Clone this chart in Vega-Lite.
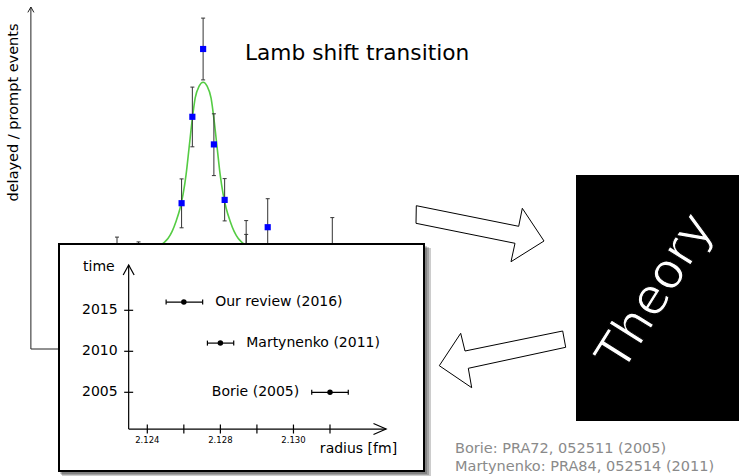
{
  "$schema": "https://vega.github.io/schema/vega-lite/v6.json",
  "width": 739,
  "height": 476,
  "padding": 0,
  "autosize": {"type": "none"},
  "background": "white",
  "config": {
    "view": {"stroke": null},
    "axis": {"disable": true},
    "legend": {"disable": true},
    "text": {"font": "DejaVu Sans"}
  },
  "datasets": {
    "spectrum": [
      {"detuning": 0, "ratio": 3.2, "lo": 2.67, "hi": 3.73},
      {"detuning": 2, "ratio": 3.3, "lo": 3.03, "hi": 3.57},
      {"detuning": 6, "ratio": 4.86, "lo": 4.04, "hi": 5.67},
      {"detuning": 7, "ratio": 7.74, "lo": 6.74, "hi": 8.73},
      {"detuning": 8, "ratio": 10.0, "lo": 8.97, "hi": 11.03},
      {"detuning": 9, "ratio": 6.82, "lo": 5.78, "hi": 7.84},
      {"detuning": 10, "ratio": 4.97, "lo": 4.27, "hi": 5.68},
      {"detuning": 12, "ratio": 3.43, "lo": 2.6, "hi": 4.28},
      {"detuning": 12, "ratio": 3.1, "lo": 2.4, "hi": 3.82},
      {"detuning": 14, "ratio": 4.06, "lo": 3.11, "hi": 5.01},
      {"detuning": 20, "ratio": 3.3, "lo": 2.2, "hi": 4.38}
    ],
    "fit": [
      {"detuning": 3.82, "ratio": 3.35},
      {"detuning": 4.28, "ratio": 3.52},
      {"detuning": 4.75, "ratio": 3.69},
      {"detuning": 5.12, "ratio": 3.92},
      {"detuning": 5.49, "ratio": 4.26},
      {"detuning": 5.86, "ratio": 4.69},
      {"detuning": 6.14, "ratio": 5.16},
      {"detuning": 6.42, "ratio": 5.82},
      {"detuning": 6.70, "ratio": 6.72},
      {"detuning": 6.98, "ratio": 7.62},
      {"detuning": 7.26, "ratio": 8.36},
      {"detuning": 7.63, "ratio": 8.76},
      {"detuning": 8.00, "ratio": 8.89},
      {"detuning": 8.37, "ratio": 8.76},
      {"detuning": 8.74, "ratio": 8.36},
      {"detuning": 9.02, "ratio": 7.62},
      {"detuning": 9.30, "ratio": 6.72},
      {"detuning": 9.58, "ratio": 5.82},
      {"detuning": 9.86, "ratio": 5.16},
      {"detuning": 10.14, "ratio": 4.69},
      {"detuning": 10.51, "ratio": 4.26},
      {"detuning": 10.88, "ratio": 3.92},
      {"detuning": 11.25, "ratio": 3.69},
      {"detuning": 11.72, "ratio": 3.52},
      {"detuning": 12.18, "ratio": 3.35}
    ],
    "spec_frame": [
      {"x": -8, "y": 0, "x2": -8, "y2": 11.4},
      {"x": -8, "y": 0, "x2": 25, "y2": 0}
    ],
    "spec_head": [
      {"o": 0, "x": -8.28, "y": 11.22},
      {"o": 1, "x": -8, "y": 11.4},
      {"o": 2, "x": -7.72, "y": 11.22}
    ],
    "inset_frame": [
      {"r": 2.12298, "yr": 2000.52, "r2": 2.12298, "yr2": 2020.52},
      {"r": 2.12298, "yr": 2000.52, "r2": 2.13707, "yr2": 2000.52}
    ],
    "inset_heads": [
      {"id": "y", "o": 0, "r": 2.12268, "yr": 2019.3},
      {"id": "y", "o": 1, "r": 2.12298, "yr": 2020.52},
      {"id": "y", "o": 2, "r": 2.12328, "yr": 2019.3},
      {"id": "x", "o": 0, "r": 2.13638, "yr": 2001.19},
      {"id": "x", "o": 1, "r": 2.13707, "yr": 2000.52},
      {"id": "x", "o": 2, "r": 2.13638, "yr": 1999.85}
    ],
    "years": [{"year": 2005}, {"year": 2010}, {"year": 2015}],
    "radii": [
      {"radius": 2.124, "label": "2.124"},
      {"radius": 2.126, "label": ""},
      {"radius": 2.128, "label": "2.128"},
      {"radius": 2.130, "label": ""},
      {"radius": 2.132, "label": "2.130"},
      {"radius": 2.134, "label": ""}
    ],
    "results": [
      {"name": "Our review (2016)", "year": 2016, "radius": 2.126, "lo": 2.12503, "hi": 2.12703},
      {"name": "Martynenko (2011)", "year": 2011, "radius": 2.128, "lo": 2.12729, "hi": 2.12873},
      {"name": "Borie (2005)", "year": 2005, "radius": 2.134, "lo": 2.133, "hi": 2.135}
    ],
    "shadow": [
      {"cx": 62, "cy": 248, "cx2": 431, "cy2": 476},
      {"cx": 61, "cy": 247, "cx2": 429, "cy2": 475},
      {"cx": 60, "cy": 246, "cx2": 427, "cy2": 474}
    ],
    "inset_box": [{"cx": 59, "cy": 244, "cx2": 424, "cy2": 471}],
    "arrows": [
      {"id": "a", "o": 0, "cx": 416.3, "cy": 205.7},
      {"id": "a", "o": 1, "cx": 518.7, "cy": 226.3},
      {"id": "a", "o": 2, "cx": 522.3, "cy": 208.3},
      {"id": "a", "o": 3, "cx": 544, "cy": 241},
      {"id": "a", "o": 4, "cx": 511, "cy": 261.7},
      {"id": "a", "o": 5, "cx": 515, "cy": 243.3},
      {"id": "a", "o": 6, "cx": 416, "cy": 223.3},
      {"id": "a", "o": 7, "cx": 416.3, "cy": 205.7},
      {"id": "b", "o": 0, "cx": 562.7, "cy": 331},
      {"id": "b", "o": 1, "cx": 465, "cy": 351},
      {"id": "b", "o": 2, "cx": 460.7, "cy": 333.3},
      {"id": "b", "o": 3, "cx": 439.3, "cy": 365.7},
      {"id": "b", "o": 4, "cx": 471.7, "cy": 387.7},
      {"id": "b", "o": 5, "cx": 468.3, "cy": 368.3},
      {"id": "b", "o": 6, "cx": 565.7, "cy": 347.3},
      {"id": "b", "o": 7, "cx": 562.7, "cy": 331}
    ],
    "theory_box": [{"cx": 576, "cy": 175, "cx2": 739, "cy2": 421}],
    "notes": [
      {"cx": 455, "cy": 448.5, "text": "Borie: PRA72, 052511 (2005)"},
      {"cx": 455, "cy": 466.5, "text": "Martynenko: PRA84, 052514 (2011)"}
    ]
  },
  "resolve": {"scale": {"x": "independent", "y": "independent"}},
  "layer": [
    {
      "layer": [
        {
          "data": {"name": "spec_frame"},
          "mark": {"type": "rule", "color": "#222", "strokeWidth": 1},
          "encoding": {
            "x": {"field": "x", "type": "quantitative", "scale": {"domain": [0, 20], "range": [117, 332.3], "zero": false, "nice": false}, "axis": null},
            "y": {"field": "y", "type": "quantitative", "scale": {"domain": [0, 11.4], "range": [349, 7], "zero": false, "nice": false}, "axis": null},
            "x2": {"field": "x2"},
            "y2": {"field": "y2"}
          }
        },
        {
          "data": {"name": "spec_head"},
          "mark": {"type": "line", "color": "#222", "strokeWidth": 1},
          "encoding": {
            "x": {"field": "x", "type": "quantitative", "scale": {"domain": [0, 20], "range": [117, 332.3], "zero": false, "nice": false}, "axis": null},
            "y": {"field": "y", "type": "quantitative", "scale": {"domain": [0, 11.4], "range": [349, 7], "zero": false, "nice": false}, "axis": null},
            "order": {"field": "o"}
          }
        },
        {
          "data": {"name": "fit"},
          "mark": {"type": "line", "color": "#55cc44", "strokeWidth": 1.6, "interpolate": "monotone"},
          "encoding": {
            "x": {"field": "detuning", "type": "quantitative", "scale": {"domain": [0, 20], "range": [117, 332.3], "zero": false, "nice": false}, "axis": null},
            "y": {"field": "ratio", "type": "quantitative", "scale": {"domain": [0, 11.4], "range": [349, 7], "zero": false, "nice": false}, "axis": null}
          }
        },
        {
          "data": {"name": "spectrum"},
          "mark": {"type": "rule", "color": "#333", "strokeWidth": 1},
          "encoding": {
            "x": {"field": "detuning", "type": "quantitative", "scale": {"domain": [0, 20], "range": [117, 332.3], "zero": false, "nice": false}, "axis": null},
            "y": {"field": "lo", "type": "quantitative", "scale": {"domain": [0, 11.4], "range": [349, 7], "zero": false, "nice": false}, "axis": null},
            "y2": {"field": "hi"}
          }
        },
        {
          "data": {"name": "spectrum"},
          "mark": {"type": "tick", "orient": "horizontal", "size": 4, "thickness": 1, "color": "#333", "opacity": 1},
          "encoding": {
            "x": {"field": "detuning", "type": "quantitative", "scale": {"domain": [0, 20], "range": [117, 332.3], "zero": false, "nice": false}, "axis": null},
            "y": {"field": "lo", "type": "quantitative", "scale": {"domain": [0, 11.4], "range": [349, 7], "zero": false, "nice": false}, "axis": null}
          }
        },
        {
          "data": {"name": "spectrum"},
          "mark": {"type": "tick", "orient": "horizontal", "size": 4, "thickness": 1, "color": "#333", "opacity": 1},
          "encoding": {
            "x": {"field": "detuning", "type": "quantitative", "scale": {"domain": [0, 20], "range": [117, 332.3], "zero": false, "nice": false}, "axis": null},
            "y": {"field": "hi", "type": "quantitative", "scale": {"domain": [0, 11.4], "range": [349, 7], "zero": false, "nice": false}, "axis": null}
          }
        },
        {
          "data": {"name": "spectrum"},
          "mark": {"type": "point", "shape": "square", "filled": true, "size": 38, "color": "#0000ff", "opacity": 1},
          "encoding": {
            "x": {"field": "detuning", "type": "quantitative", "scale": {"domain": [0, 20], "range": [117, 332.3], "zero": false, "nice": false}, "axis": null},
            "y": {"field": "ratio", "type": "quantitative", "scale": {"domain": [0, 11.4], "range": [349, 7], "zero": false, "nice": false}, "axis": null}
          }
        }
      ]
    },
    {
      "layer": [
        {
          "data": {"name": "shadow"},
          "mark": {"type": "rect", "color": "#000", "opacity": 0.2},
          "encoding": {
            "x": {"field": "cx", "type": "quantitative", "scale": {"domain": [0, 739], "range": [0, 739], "zero": false, "nice": false}, "axis": null},
            "y": {"field": "cy", "type": "quantitative", "scale": {"domain": [0, 476], "range": [0, 476], "zero": false, "nice": false}, "axis": null},
            "x2": {"field": "cx2"},
            "y2": {"field": "cy2"}
          }
        },
        {
          "data": {"name": "inset_box"},
          "mark": {"type": "rect", "fill": "white", "stroke": "black", "strokeWidth": 2, "opacity": 1},
          "encoding": {
            "x": {"field": "cx", "type": "quantitative", "scale": {"domain": [0, 739], "range": [0, 739], "zero": false, "nice": false}, "axis": null},
            "y": {"field": "cy", "type": "quantitative", "scale": {"domain": [0, 476], "range": [0, 476], "zero": false, "nice": false}, "axis": null},
            "x2": {"field": "cx2"},
            "y2": {"field": "cy2"}
          }
        }
      ]
    },
    {
      "layer": [
        {
          "data": {"name": "inset_frame"},
          "mark": {"type": "rule", "color": "black", "strokeWidth": 1.2},
          "encoding": {
            "x": {"field": "r", "type": "quantitative", "scale": {"domain": [2.124, 2.134], "range": [147.3, 330], "zero": false, "nice": false}, "axis": null},
            "y": {"field": "yr", "type": "quantitative", "scale": {"domain": [2005, 2015], "range": [392.3, 310.3], "zero": false, "nice": false}, "axis": null},
            "x2": {"field": "r2"},
            "y2": {"field": "yr2"}
          }
        },
        {
          "data": {"name": "inset_heads"},
          "mark": {"type": "line", "color": "black", "strokeWidth": 1.2},
          "encoding": {
            "x": {"field": "r", "type": "quantitative", "scale": {"domain": [2.124, 2.134], "range": [147.3, 330], "zero": false, "nice": false}, "axis": null},
            "y": {"field": "yr", "type": "quantitative", "scale": {"domain": [2005, 2015], "range": [392.3, 310.3], "zero": false, "nice": false}, "axis": null},
            "detail": {"field": "id"},
            "order": {"field": "o"}
          }
        },
        {
          "data": {"name": "years"},
          "mark": {"type": "tick", "orient": "horizontal", "size": 9, "thickness": 1.2, "color": "black", "opacity": 1},
          "encoding": {
            "x": {"datum": 2.12298, "type": "quantitative", "scale": {"domain": [2.124, 2.134], "range": [147.3, 330], "zero": false, "nice": false}, "axis": null},
            "y": {"field": "year", "type": "quantitative", "scale": {"domain": [2005, 2015], "range": [392.3, 310.3], "zero": false, "nice": false}, "axis": null}
          }
        },
        {
          "data": {"name": "years"},
          "mark": {"type": "text", "align": "right", "baseline": "middle", "dx": -11, "fontSize": 14, "color": "black"},
          "encoding": {
            "x": {"datum": 2.12298, "type": "quantitative", "scale": {"domain": [2.124, 2.134], "range": [147.3, 330], "zero": false, "nice": false}, "axis": null},
            "y": {"field": "year", "type": "quantitative", "scale": {"domain": [2005, 2015], "range": [392.3, 310.3], "zero": false, "nice": false}, "axis": null},
            "text": {"field": "year", "type": "nominal"}
          }
        },
        {
          "data": {"name": "radii"},
          "mark": {"type": "tick", "orient": "vertical", "size": 9, "thickness": 1.2, "color": "black", "opacity": 1},
          "encoding": {
            "x": {"field": "radius", "type": "quantitative", "scale": {"domain": [2.124, 2.134], "range": [147.3, 330], "zero": false, "nice": false}, "axis": null},
            "y": {"datum": 2000.52, "type": "quantitative", "scale": {"domain": [2005, 2015], "range": [392.3, 310.3], "zero": false, "nice": false}, "axis": null}
          }
        },
        {
          "data": {"name": "radii"},
          "mark": {"type": "text", "align": "center", "baseline": "middle", "dy": 11, "fontSize": 8.5, "color": "black"},
          "encoding": {
            "x": {"field": "radius", "type": "quantitative", "scale": {"domain": [2.124, 2.134], "range": [147.3, 330], "zero": false, "nice": false}, "axis": null},
            "y": {"datum": 2000.52, "type": "quantitative", "scale": {"domain": [2005, 2015], "range": [392.3, 310.3], "zero": false, "nice": false}, "axis": null},
            "text": {"field": "label", "type": "nominal"}
          }
        },
        {
          "data": {"values": [{"label": "time"}]},
          "mark": {"type": "text", "align": "right", "baseline": "middle", "dx": -14, "dy": 2, "fontSize": 14, "color": "black"},
          "encoding": {
            "x": {"datum": 2.12298, "type": "quantitative", "scale": {"domain": [2.124, 2.134], "range": [147.3, 330], "zero": false, "nice": false}, "axis": null},
            "y": {"datum": 2020.52, "type": "quantitative", "scale": {"domain": [2005, 2015], "range": [392.3, 310.3], "zero": false, "nice": false}, "axis": null},
            "text": {"field": "label", "type": "nominal"}
          }
        },
        {
          "data": {"values": [{"label": "radius [fm]"}]},
          "mark": {"type": "text", "align": "right", "baseline": "middle", "dx": 11, "dy": 20, "fontSize": 14, "color": "black"},
          "encoding": {
            "x": {"datum": 2.13707, "type": "quantitative", "scale": {"domain": [2.124, 2.134], "range": [147.3, 330], "zero": false, "nice": false}, "axis": null},
            "y": {"datum": 2000.52, "type": "quantitative", "scale": {"domain": [2005, 2015], "range": [392.3, 310.3], "zero": false, "nice": false}, "axis": null},
            "text": {"field": "label", "type": "nominal"}
          }
        },
        {
          "data": {"name": "results"},
          "mark": {"type": "rule", "color": "black", "strokeWidth": 1.2},
          "encoding": {
            "x": {"field": "lo", "type": "quantitative", "scale": {"domain": [2.124, 2.134], "range": [147.3, 330], "zero": false, "nice": false}, "axis": null},
            "x2": {"field": "hi"},
            "y": {"field": "year", "type": "quantitative", "scale": {"domain": [2005, 2015], "range": [392.3, 310.3], "zero": false, "nice": false}, "axis": null}
          }
        },
        {
          "data": {"name": "results"},
          "mark": {"type": "tick", "orient": "vertical", "size": 5, "thickness": 1.2, "color": "black", "opacity": 1},
          "encoding": {
            "x": {"field": "lo", "type": "quantitative", "scale": {"domain": [2.124, 2.134], "range": [147.3, 330], "zero": false, "nice": false}, "axis": null},
            "y": {"field": "year", "type": "quantitative", "scale": {"domain": [2005, 2015], "range": [392.3, 310.3], "zero": false, "nice": false}, "axis": null}
          }
        },
        {
          "data": {"name": "results"},
          "mark": {"type": "tick", "orient": "vertical", "size": 5, "thickness": 1.2, "color": "black", "opacity": 1},
          "encoding": {
            "x": {"field": "hi", "type": "quantitative", "scale": {"domain": [2.124, 2.134], "range": [147.3, 330], "zero": false, "nice": false}, "axis": null},
            "y": {"field": "year", "type": "quantitative", "scale": {"domain": [2005, 2015], "range": [392.3, 310.3], "zero": false, "nice": false}, "axis": null}
          }
        },
        {
          "data": {"name": "results"},
          "mark": {"type": "point", "shape": "circle", "filled": true, "size": 30, "color": "black", "opacity": 1},
          "encoding": {
            "x": {"field": "radius", "type": "quantitative", "scale": {"domain": [2.124, 2.134], "range": [147.3, 330], "zero": false, "nice": false}, "axis": null},
            "y": {"field": "year", "type": "quantitative", "scale": {"domain": [2005, 2015], "range": [392.3, 310.3], "zero": false, "nice": false}, "axis": null}
          }
        },
        {
          "data": {"name": "results"},
          "transform": [{"filter": "datum.year > 2008"}],
          "mark": {"type": "text", "align": "left", "baseline": "middle", "dx": 12.5, "fontSize": 14, "color": "black"},
          "encoding": {
            "x": {"field": "hi", "type": "quantitative", "scale": {"domain": [2.124, 2.134], "range": [147.3, 330], "zero": false, "nice": false}, "axis": null},
            "y": {"field": "year", "type": "quantitative", "scale": {"domain": [2005, 2015], "range": [392.3, 310.3], "zero": false, "nice": false}, "axis": null},
            "text": {"field": "name", "type": "nominal"}
          }
        },
        {
          "data": {"name": "results"},
          "transform": [{"filter": "datum.year < 2008"}],
          "mark": {"type": "text", "align": "right", "baseline": "middle", "dx": -12.5, "fontSize": 14, "color": "black"},
          "encoding": {
            "x": {"field": "lo", "type": "quantitative", "scale": {"domain": [2.124, 2.134], "range": [147.3, 330], "zero": false, "nice": false}, "axis": null},
            "y": {"field": "year", "type": "quantitative", "scale": {"domain": [2005, 2015], "range": [392.3, 310.3], "zero": false, "nice": false}, "axis": null},
            "text": {"field": "name", "type": "nominal"}
          }
        }
      ]
    },
    {
      "layer": [
        {
          "data": {"name": "arrows"},
          "mark": {"type": "line", "color": "black", "strokeWidth": 1},
          "encoding": {
            "x": {"field": "cx", "type": "quantitative", "scale": {"domain": [0, 739], "range": [0, 739], "zero": false, "nice": false}, "axis": null},
            "y": {"field": "cy", "type": "quantitative", "scale": {"domain": [0, 476], "range": [0, 476], "zero": false, "nice": false}, "axis": null},
            "detail": {"field": "id"},
            "order": {"field": "o"}
          }
        },
        {
          "data": {"name": "theory_box"},
          "mark": {"type": "rect", "color": "black", "opacity": 1},
          "encoding": {
            "x": {"field": "cx", "type": "quantitative", "scale": {"domain": [0, 739], "range": [0, 739], "zero": false, "nice": false}, "axis": null},
            "y": {"field": "cy", "type": "quantitative", "scale": {"domain": [0, 476], "range": [0, 476], "zero": false, "nice": false}, "axis": null},
            "x2": {"field": "cx2"},
            "y2": {"field": "cy2"}
          }
        },
        {
          "data": {"values": [{"label": "Theory", "cx": 656, "cy": 292}]},
          "mark": {"type": "text", "align": "center", "baseline": "middle", "angle": -58, "fontSize": 50, "fill": "white", "stroke": "black", "strokeWidth": 1.1},
          "encoding": {
            "x": {"field": "cx", "type": "quantitative", "scale": {"domain": [0, 739], "range": [0, 739], "zero": false, "nice": false}, "axis": null},
            "y": {"field": "cy", "type": "quantitative", "scale": {"domain": [0, 476], "range": [0, 476], "zero": false, "nice": false}, "axis": null},
            "text": {"field": "label", "type": "nominal"}
          }
        },
        {
          "data": {"values": [{"label": "Lamb shift transition", "cx": 245, "cy": 53}]},
          "mark": {"type": "text", "align": "left", "baseline": "middle", "fontSize": 21.7, "color": "black"},
          "encoding": {
            "x": {"field": "cx", "type": "quantitative", "scale": {"domain": [0, 739], "range": [0, 739], "zero": false, "nice": false}, "axis": null},
            "y": {"field": "cy", "type": "quantitative", "scale": {"domain": [0, 476], "range": [0, 476], "zero": false, "nice": false}, "axis": null},
            "text": {"field": "label", "type": "nominal"}
          }
        },
        {
          "data": {"values": [{"label": "delayed / prompt events", "cx": 13.5, "cy": 112.5}]},
          "mark": {"type": "text", "align": "center", "baseline": "middle", "angle": 270, "fontSize": 14.5, "color": "black"},
          "encoding": {
            "x": {"field": "cx", "type": "quantitative", "scale": {"domain": [0, 739], "range": [0, 739], "zero": false, "nice": false}, "axis": null},
            "y": {"field": "cy", "type": "quantitative", "scale": {"domain": [0, 476], "range": [0, 476], "zero": false, "nice": false}, "axis": null},
            "text": {"field": "label", "type": "nominal"}
          }
        },
        {
          "data": {"name": "notes"},
          "mark": {"type": "text", "align": "left", "baseline": "middle", "fontSize": 14.5, "color": "#8a8a8a"},
          "encoding": {
            "x": {"field": "cx", "type": "quantitative", "scale": {"domain": [0, 739], "range": [0, 739], "zero": false, "nice": false}, "axis": null},
            "y": {"field": "cy", "type": "quantitative", "scale": {"domain": [0, 476], "range": [0, 476], "zero": false, "nice": false}, "axis": null},
            "text": {"field": "text", "type": "nominal"}
          }
        }
      ]
    }
  ]
}
